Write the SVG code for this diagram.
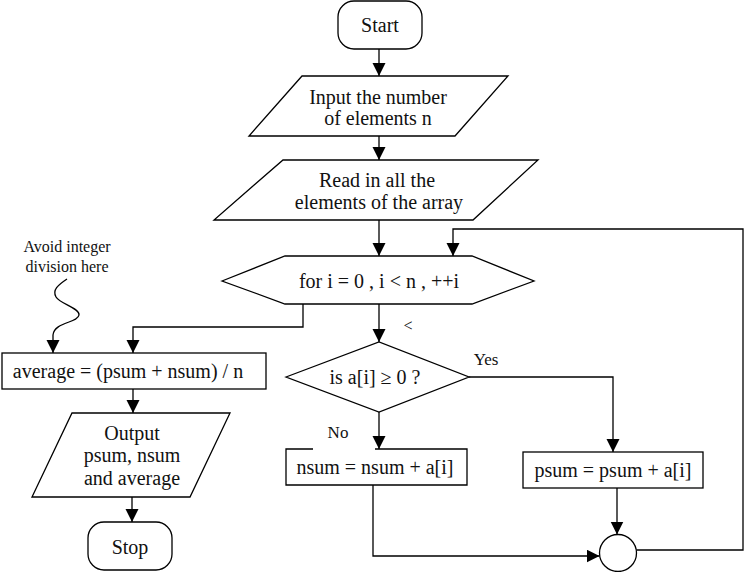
<svg xmlns="http://www.w3.org/2000/svg" width="745" height="572" viewBox="0 0 745 572">
<style>
.s{fill:#fff;stroke:#000;stroke-width:1.3}
text{font-family:'Liberation Serif',Tinos,'Noto Serif','DejaVu Serif','Nimbus Roman','FreeSerif','Times New Roman',Times,serif;font-size:20px;fill:#111;text-anchor:middle}
.sm{font-size:16px}
.lb{font-size:17px}
.c{fill:none;stroke:#000;stroke-width:1.3}
</style>
<defs>
<marker id="ah" markerUnits="userSpaceOnUse" markerWidth="14" markerHeight="14" refX="13" refY="6.5" orient="auto">
<path d="M0,0 L13,6.5 L0,13 z" fill="#000"/>
</marker>
</defs>
<rect width="745" height="572" fill="#fff"/>
<g id="connectors">
<path class="c" d="M379,49 V76" marker-end="url(#ah)"/>
<path class="c" d="M379,136 V160" marker-end="url(#ah)"/>
<path class="c" d="M379,220 V256" marker-end="url(#ah)"/>
<path class="c" d="M379,304 V342" marker-end="url(#ah)"/>
<path class="c" d="M379,412 V449" marker-end="url(#ah)"/>
<path class="c" d="M469,377 H613 V452" marker-end="url(#ah)"/>
<path class="c" d="M373,485 V556 H599.5" marker-end="url(#ah)"/>
<path class="c" d="M617,488 V534.5" marker-end="url(#ah)"/>
<path class="c" d="M636.5,550 H743 V229 H453 V256" marker-end="url(#ah)"/>
<path class="c" d="M303,304 V327 H133 V353" marker-end="url(#ah)"/>
<path class="c" d="M133,389 V413" marker-end="url(#ah)"/>
<path class="c" d="M132,497 V522" marker-end="url(#ah)"/>
<path class="c" d="M67,279 C58,285 52,290 56,297 C60,304 80,308 79,315 C78,323 54,322 53,335 L53,353" marker-end="url(#ah)"/>
<text class="sm" x="408" y="331">&lt;</text>
<text class="lb" x="486" y="365">Yes</text>
<text class="lb" x="338" y="438">No</text>
</g>
<g id="start">
<rect class="s" x="338" y="1" width="84" height="48" rx="16"/>
<text x="380" y="32">Start</text>
</g>
<g id="input">
<polygon class="s" points="302,76 508,76 455,136 249,136"/>
<text x="378" y="104">Input the number</text>
<text x="378" y="125">of elements n</text>
</g>
<g id="read">
<polygon class="s" points="283,160 538,160 473,220 214,220"/>
<text x="377" y="187">Read in all the</text>
<text x="379" y="209">elements of the array</text>
</g>
<g id="loop">
<polygon class="s" points="222,281 285,256 472,256 534,281 472,304 285,304"/>
<text x="379" y="288">for i = 0 , i &lt; n  , ++i</text>
</g>
<g id="decision">
<polygon class="s" points="286,377 379,342 469,377 379,412"/>
<text x="375" y="384">is a[i] ≥ 0 ?</text>
</g>
<g id="nsum">
<rect x="286" y="449" width="181" height="36" fill="#fff"/>
<path class="c" d="M313,449 H286 V485 H467 V449 H375"/>
<text x="375" y="474">nsum = nsum + a[i]</text>
</g>
<g id="psum">
<rect class="s" x="523" y="452" width="180" height="36"/>
<text x="613" y="477">psum = psum + a[i]</text>
</g>
<g id="join">
<circle class="s" cx="618" cy="553" r="18.5"/>
</g>
<g id="note">
<text class="sm" x="67" y="252">Avoid integer</text>
<text class="sm" x="67" y="272">division here</text>
</g>
<g id="average">
<rect class="s" x="2" y="353" width="264" height="36"/>
<text x="128" y="378">average = (psum + nsum) / n</text>
</g>
<g id="output">
<polygon class="s" points="72,413 230,413 190,497 32,497"/>
<text x="132" y="440">Output</text>
<text x="132" y="462">psum, nsum</text>
<text x="132" y="485">and average</text>
</g>
<g id="stop">
<rect class="s" x="88" y="522" width="84" height="48" rx="16"/>
<text x="130" y="554">Stop</text>
</g>
</svg>
